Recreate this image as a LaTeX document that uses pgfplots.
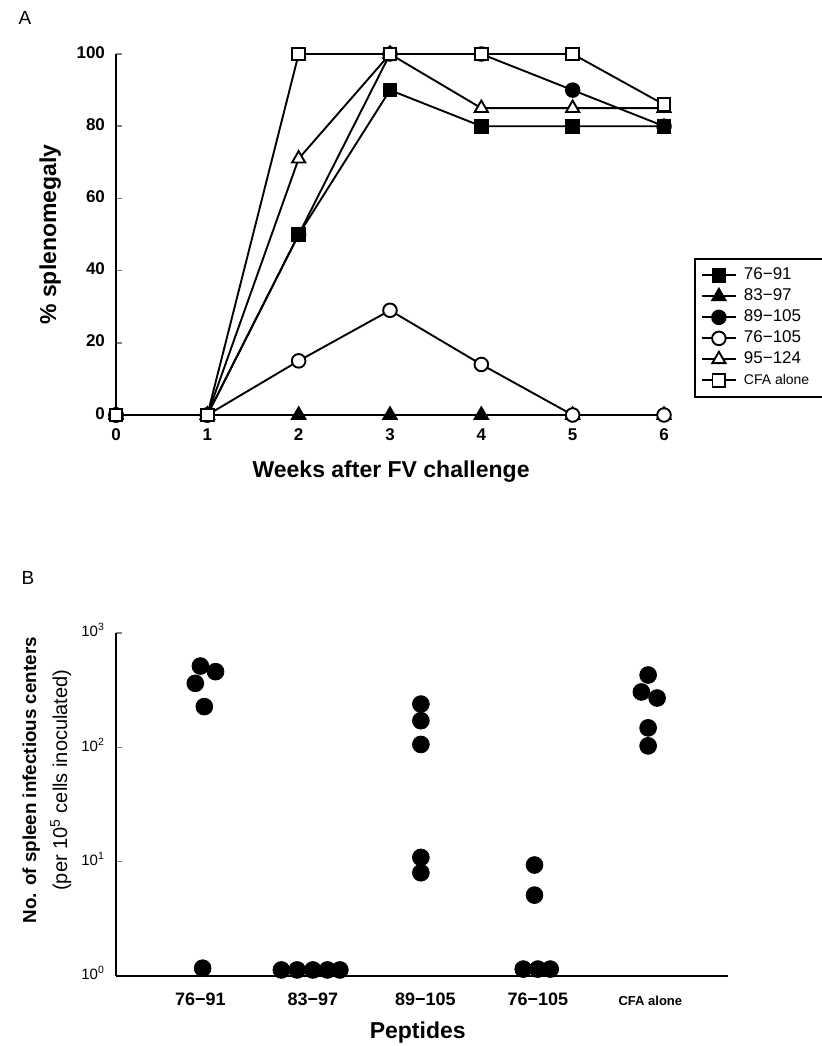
\documentclass[border=0pt]{standalone}
\usepackage{fontspec}
\setmainfont{Liberation Sans}
\usepackage{pgfplots}
\pgfplotsset{compat=1.18}

\pgfplotsset{
  ln/.style={black, line width=0.95pt, mark size=3.2pt, mark options={solid, line width=0.9pt}},
  fsq/.style={ln, mark=square*, mark options={fill=black}},
  osq/.style={ln, mark=square*, mark options={fill=white}},
  fci/.style={ln, mark=*, mark size=3.4pt, mark options={fill=black}},
  oci/.style={ln, mark=*, mark size=3.4pt, mark options={fill=white}},
  ftr/.style={ln, mark=triangle*, mark size=3.8pt, mark options={fill=black}},
  otr/.style={ln, mark=triangle*, mark size=3.8pt, mark options={fill=white}},
}

\begin{document}
\begin{tikzpicture}
\useasboundingbox (0pt,0pt) rectangle (411pt,-523pt);
\node[font=\fontsize{9.5}{11}\selectfont] at (12.5pt,-9pt) {A};
\node[font=\fontsize{9.5}{11}\selectfont] at (14pt,-289pt) {B};

% panel A
\begin{axis}[
  at={(58pt,-207.5pt)}, anchor=south west,
  scale only axis, width=274pt, height=180.5pt,
  xmin=0, xmax=6, ymin=0, ymax=100,
  clip=false,
  axis lines*=left,
  axis line style={-, line width=1pt},
  x axis line style={draw=none},
  xtick={0,...,6}, ytick={0,20,...,100},
  xtick style={draw=none},
  tick align=inside, major tick length=3pt,
  ytick style={line width=0.8pt},
  /pgf/number format/assume math mode=true,
  typeset ticklabels with strut,
  tick label style={font=\bfseries\fontsize{8.5}{10}\selectfont},
  xticklabel style={yshift=-2pt},
  yticklabel style={xshift=-2pt},
  xlabel={Weeks after FV challenge},
  ylabel={\% splenomegaly},
  every axis x label/.style={at={(axis description cs:0.502,-0.158)}, anchor=center,
    font=\bfseries\fontsize{11.5}{13}\selectfont},
  every axis y label/.style={at={(axis description cs:-0.12,0.5)}, anchor=center, rotate=90,
    font=\bfseries\fontsize{11.5}{13}\selectfont},
  legend style={at={(axis description cs:1.0547,0.435)}, anchor=north west,
    draw=black, line width=0.9pt, font=\fontsize{8.5}{10}\selectfont,
    row sep=0pt, inner ysep=3pt,
    nodes={inner sep=1.5pt, text height=6pt, text depth=1.5pt}},
  legend cell align=left,
]
% 89-105
\addplot[fci, forget plot] coordinates {(0,0) (1,0) (2,50) (3,100) (4,100) (5,90) (6,80)};
% 83-97
\addplot[ftr, forget plot] coordinates {(0,0) (1,0) (2,0) (3,0) (4,0) (5,0) (6,0)};
% 76-91
\addplot[fsq, forget plot] coordinates {(0,0) (1,0) (2,50) (3,90) (4,80) (5,80) (6,80)};
% 95-124
\addplot[otr, forget plot] coordinates {(0,0) (1,0) (2,71) (3,100) (4,85) (5,85) (6,85)};
% 76-105
\addplot[oci, forget plot] coordinates {(0,0) (1,0) (2,15) (3,29) (4,14) (5,0) (6,0)};
% CFA alone
\addplot[osq, forget plot] coordinates {(0,0) (1,0) (2,100) (3,100) (4,100) (5,100) (6,86)};

\addlegendimage{fsq}\addlegendentry{\makebox[48pt][l]{\hspace{2pt}76−91}}
\addlegendimage{ftr}\addlegendentry{\makebox[48pt][l]{\hspace{2pt}83−97}}
\addlegendimage{fci}\addlegendentry{\makebox[48pt][l]{\hspace{2pt}89−105}}
\addlegendimage{oci}\addlegendentry{\makebox[48pt][l]{\hspace{2pt}76−105}}
\addlegendimage{otr}\addlegendentry{\makebox[48pt][l]{\hspace{2pt}95−124}}
\addlegendimage{osq}\addlegendentry{\makebox[48pt][l]{\hspace{2pt}\fontsize{7}{8}\selectfont CFA alone}}
\end{axis}

% panel B
\begin{axis}[
  at={(58pt,-488pt)}, anchor=south west,
  scale only axis, width=306pt, height=171.5pt,
  xmin=-0.75, xmax=4.69,
  ymode=log, ymin=1, ymax=1000,
  clip=false,
  axis lines*=left,
  axis line style={-, line width=1pt},
  xtick={0,...,4},
  xticklabels={76−91, 83−97, 89−105, 76−105, {\fontsize{6.5}{7}\selectfont CFA alone}},
  xtick style={draw=none},
  typeset ticklabels with strut,
  xticklabel style={font=\bfseries\fontsize{9}{10}\selectfont, yshift=-4pt},
  ytick={1,10,100,1000},
  yticklabels={10\textsuperscript{0}, 10\textsuperscript{1}, 10\textsuperscript{2}, 10\textsuperscript{3}},
  yticklabel style={font=\fontsize{7.5}{9}\selectfont, xshift=-2pt},
  yminorticks=false,
  tick align=inside, major tick length=3pt,
  ytick style={line width=0.8pt},
  xlabel={Peptides},
  ylabel={{\bfseries\fontsize{9.4}{15}\selectfont No. of spleen infectious centers}\\{\fontsize{10}{15}\selectfont(per 10\textsuperscript{5} cells inoculated)}},
  every axis x label/.style={at={(axis description cs:0.493,-0.166)}, anchor=center,
    font=\bfseries\fontsize{11.5}{13}\selectfont},
  every axis y label/.style={at={(axis description cs:-0.113,0.571)}, anchor=center, rotate=90,
    align=center, font=\fontsize{10}{15.5}\selectfont},
]
\addplot[only marks, mark=*, mark size=4.2pt, black] coordinates {
  (0.00,514) (0.135,459) (-0.045,363) (0.035,227) (0.02,1.17)
  (0.72,1.13) (0.86,1.13) (1.00,1.13) (1.13,1.13) (1.24,1.13)
  (1.96,239) (1.96,171) (1.96,106) (1.96,10.9) (1.96,8.0)
  (2.97,9.35) (2.97,5.1) (2.87,1.15) (3.00,1.15) (3.11,1.15)
  (3.98,429) (3.92,305) (4.06,270) (3.98,148) (3.98,103)
};
\end{axis}
\end{tikzpicture}
\end{document}
